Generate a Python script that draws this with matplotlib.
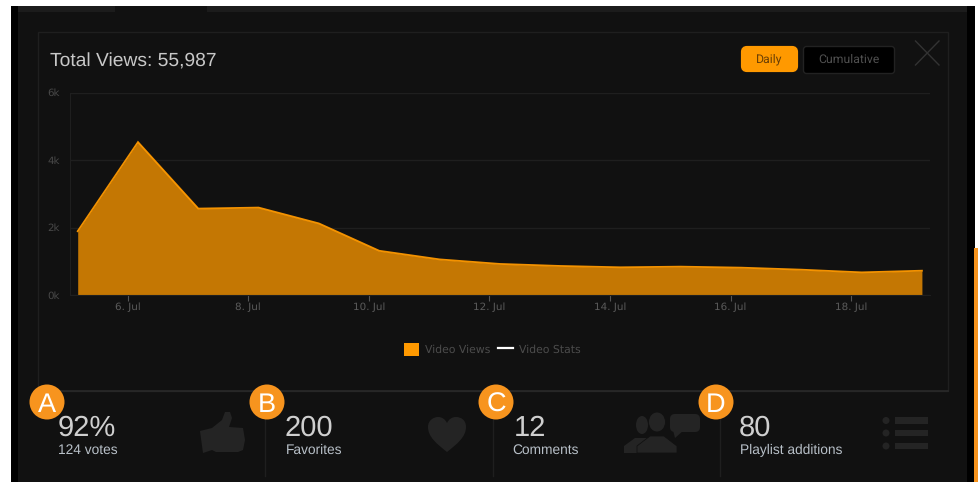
import matplotlib
matplotlib.use("Agg")
import matplotlib.pyplot as plt
from matplotlib.patches import Rectangle, FancyBboxPatch, Circle, Polygon, Patch, PathPatch, Ellipse
from matplotlib.lines import Line2D
from matplotlib.path import Path

plt.rcParams["text.hinting"] = "none"

# ---- data -------------------------------------------------------------
days = [5, 6, 7, 8, 9, 10, 11, 12, 13, 14, 15, 16, 17, 18, 19]
views_k = [1.89, 4.53, 2.56, 2.59, 2.12, 1.31, 1.055, 0.92, 0.86, 0.82, 0.84, 0.81, 0.75, 0.67, 0.72]
day_shift = 0.174
tick_days = [6, 8, 10, 12, 14, 16, 18]
tick_labels = ["6. Jul", "8. Jul", "10. Jul", "12. Jul", "14. Jul", "16. Jul", "18. Jul"]
y_ticks = [0, 2, 4, 6]
y_labels = ["0k", "2k", "4k", "6k"]
series_names = ["Video Views", "Video Stats"]
title = "Total Views: 55,987"
stat_values = ["92%", "200", "12", "80"]
stat_names = ["124 votes", "Favorites", "Comments", "Playlist additions"]
badges = ["A", "B", "C", "D"]

W, H = 979, 482
ORANGE = "#ff9900"
BADGE = "#f7941e"
PANEL = "#111111"
GRID = "#1f1f1f"
ICON = "#242424"
SANS = "Liberation Sans"

fig = plt.figure(figsize=(W / 100, H / 100), dpi=100, facecolor="white")

# ---- background page, pixel coordinates --------------------------------
bg = fig.add_axes([0, 0, 1, 1], zorder=0)
bg.set_xlim(0, W); bg.set_ylim(H, 0); bg.axis("off")
bg.add_patch(Rectangle((11, 6), 964, 476, fc="black", ec="none"))
bg.add_patch(Rectangle((18, 6), 949, 476, fc=PANEL, ec="none"))
bg.add_patch(Rectangle((18, 6), 97, 6, fc="#1c1c1c", ec="none"))
bg.add_patch(Rectangle((207, 6), 760, 6, fc="#1c1c1c", ec="none"))
bg.add_patch(Rectangle((974.5, 248), 4.5, 234, fc=BADGE, ec="none"))
bg.add_patch(Rectangle((38.5, 31.5), 910, 359, fc="none", ec="#1f1f1f", lw=1))
bg.plot([38.5, 948.5], [390.5, 390.5], color="#282828", lw=1.3)

# ---- chart ---------------------------------------------------------------
x0, x1, ytop, ybot = 69.5, 930, 92.5, 295
ax = fig.add_axes([x0 / W, 1 - ybot / H, (x1 - x0) / W, (ybot - ytop) / H], zorder=1)
ax.patch.set_alpha(0)
xs = [d + day_shift for d in days]
ax.fill_between(xs, views_k, 0, color="#c47703", lw=0)
ax.plot(xs, views_k, color=ORANGE, lw=1.3, alpha=0.95, solid_joinstyle="miter")
ax.set_xlim(5.038, 19.308)
ax.set_ylim(0, 6)
ax.set_yticks(y_ticks, y_labels)
ax.set_xticks(tick_days, tick_labels)
ax.grid(axis="y", color=GRID, lw=1)
ax.set_axisbelow(True)
for s in ("top", "right"):
    ax.spines[s].set_visible(False)
for s in ("left", "bottom"):
    ax.spines[s].set_color(GRID)
ax.tick_params(axis="y", length=0, pad=7, labelcolor="#484848", labelsize=7.4)
ax.tick_params(axis="x", length=4, width=0.8, color="#555555", direction="out", pad=1.5,
               labelcolor="#5a5a5a", labelsize=7.5)
handles = [Patch(fc=ORANGE, ec="none"), Line2D([0], [0], color="white", lw=1.6)]
ax.legend(handles, series_names, loc="center", bbox_to_anchor=(492.5 / W, 1 - 349.5 / H),
          bbox_transform=fig.transFigure, ncol=2, frameon=False, fontsize=7.8,
          labelcolor="#4c4c4c", handlelength=1.35, handleheight=1.45, handletextpad=0.55,
          columnspacing=0.75, borderpad=0)

# ---- overlay: title, buttons, stats --------------------------------------
ov = fig.add_axes([0, 0, 1, 1], zorder=2)
ov.set_xlim(0, W); ov.set_ylim(H, 0); ov.axis("off")
ov.text(50.5, 66.5, title, color="#c8c8c8", fontsize=13.85, family=SANS, va="baseline")

ov.add_patch(FancyBboxPatch((743, 48), 53, 22, boxstyle="round,pad=0,rounding_size=4", fc=ORANGE,
                            ec=ORANGE, lw=3))
ov.text(769.5, 59.7, "Daily", color="#6a3f05", fontsize=8.8, family="Roboto", ha="center", va="center")
ov.add_patch(FancyBboxPatch((803.5, 46.5), 91, 27, boxstyle="round,pad=0,rounding_size=3", fc="black",
                            ec="#222222", lw=1))
ov.text(849, 60, "Cumulative", color="#505050", fontsize=8.8, family="Roboto", ha="center", va="center")
ov.plot([915.5, 939], [41, 65], color="#333333", lw=1)
ov.plot([915.5, 939], [65, 41], color="#333333", lw=1)

for x in (265.5, 493.5, 720.5):
    ov.plot([x, x], [392, 476], color="#1f1f1f", lw=1, zorder=0.5)

big_x = (57.5, 284.5, 514, 739)
small_x = (58.5, 285.5, 512.5, 740.5)
badge_x = (47, 267, 496, 716)
for i in range(4):
    ov.text(big_x[i], 436, stat_values[i], color="#cfcfcf", fontsize=21, family=SANS, va="baseline")
    ov.text(small_x[i], 454.2, stat_names[i], color="#b8c0c8", fontsize=9.9, family=SANS, va="baseline")
    ov.add_patch(Circle((badge_x[i], 402), 17.5, fc=BADGE, ec="none"))
    ov.text(badge_x[i], 411.5, badges[i], color="white", fontsize=19.5, family=SANS,
            ha="center", va="baseline")

# thumb icon
ov.add_patch(Polygon([(200, 431), (212, 428), (222, 420), (225, 412), (230, 412), (232, 418), (229, 427),
                      (243, 428), (245, 440), (243, 450), (238, 452), (216, 452), (212, 450), (203, 453)],
                     closed=True, fc=ICON, ec="none"))
# heart icon
V, C, Z = Path.MOVETO, Path.CURVE4, Path.CLOSEPOLY
heart = Path([(447, 452), (437, 444), (428, 437), (428, 427), (428, 420), (434, 417), (438, 417),
              (442, 417), (445, 419), (447, 423), (449, 419), (452, 417), (456, 417), (461, 417),
              (466, 420), (466, 427), (466, 437), (457, 444), (447, 452), (447, 452)],
             [V, C, C, C, C, C, C, C, C, C, C, C, C, C, C, C, C, C, C, Z])
ov.add_patch(PathPatch(heart, fc=ICON, ec="none"))
# people and speech bubble icon
ov.add_patch(Ellipse((642, 425), 12, 18, fc=ICON, ec="none"))
ov.add_patch(Polygon([(624, 453), (624, 446), (635, 438), (650, 438), (650, 453)], fc=ICON, ec="none"))
ov.add_patch(Ellipse((657, 422), 17, 20, fc=ICON, ec=PANEL, lw=0.6))
ov.add_patch(Polygon([(637, 453), (637, 446), (650, 436), (664, 436), (677, 446), (677, 453)],
                     fc=ICON, ec=PANEL, lw=0.6))
ov.add_patch(FancyBboxPatch((670, 414), 30, 18, boxstyle="round,pad=0,rounding_size=5", fc=ICON, ec="none"))
ov.add_patch(Polygon([(673, 430), (684, 430), (675, 438)], fc=ICON, ec="none"))
# list icon
for y in (420.5, 433, 446):
    ov.add_patch(Circle((886, y), 3.5, fc=ICON, ec="none"))
    ov.add_patch(Rectangle((895, y - 3.3), 33, 6.6, fc=ICON, ec="none"))

fig.savefig("out.png", dpi=100, facecolor="white")
